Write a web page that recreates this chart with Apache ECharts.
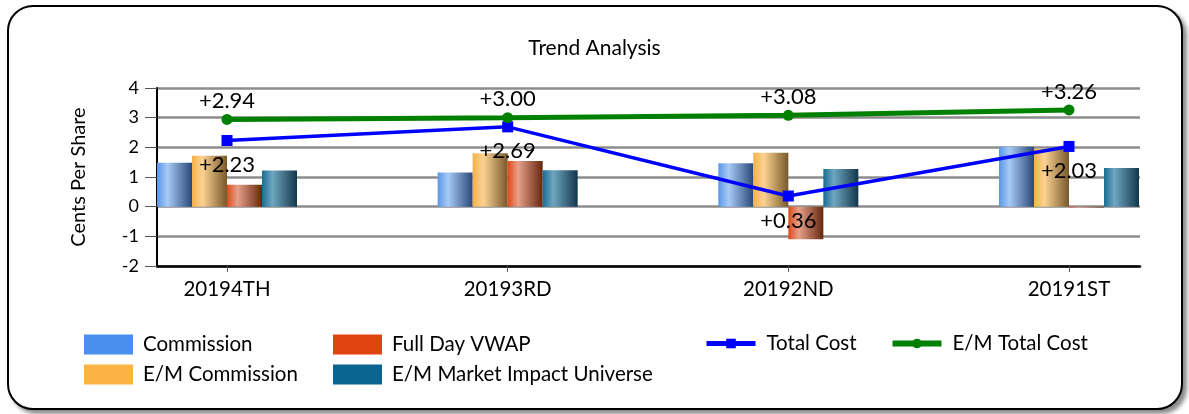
<!DOCTYPE html>
<html>
<head>
<meta charset="utf-8">
<script src="https://cdn.jsdelivr.net/npm/echarts@6/dist/echarts.min.js"></script>
<style>
html,body{margin:0;padding:0;background:#fff;}
#frame{position:absolute;left:7px;top:5px;width:1172px;height:401px;border:2px solid #000;border-radius:26px;box-shadow:4px 4px 4px #8a8a8a;background:#fff;}
#chart{position:absolute;left:0;top:0;width:1189px;height:414px;}
</style>
</head>
<body>
<div id="frame"></div>
<div id="chart"></div>
<script>
const categories = ['20194TH', '20193RD', '20192ND', '20191ST'];
const commission = [1.48, 1.15, 1.46, 2.02];
const emCommission = [1.72, 1.80, 1.82, 1.95];
const fullDayVWAP = [0.74, 1.54, -1.10, -0.03];
const emMarketImpact = [1.22, 1.23, 1.27, 1.30];
const totalCost = [2.23, 2.69, 0.36, 2.03];
const emTotalCost = [2.94, 3.00, 3.08, 3.26];
const yMin = -2, yMax = 4, yStep = 1;

const FONT = 'Lato';
function grad(c0, c1, c2) {
  return new echarts.graphic.LinearGradient(0, 0, 1, 0, [
    {offset: 0, color: c0}, {offset: 0.3, color: c1}, {offset: 1, color: c2}
  ]);
}
function fmt(p) { return '+' + p.value.toFixed(2); }

const chart = echarts.init(document.getElementById('chart'), null, {renderer: 'canvas'});
const barBase = {type: 'bar', xAxisIndex: 1, yAxisIndex: 1, barWidth: 35, barGap: '0%', clip: false};
const legText = {fontFamily: FONT, fontSize: 20.5, color: '#000', padding: [0, 0, 0, 5]};
chart.setOption({
  animation: false,
  textStyle: {fontFamily: FONT},
  title: {text: 'Trend Analysis', left: 'center', top: 33,
    textStyle: {fontFamily: FONT, fontSize: 21, fontWeight: 'normal', color: '#000'}},
  grid: [
    {left: 157, right: 49, top: 88, bottom: 148},
    {left: 227, right: 120, top: 88, bottom: 148}
  ],
  xAxis: [
    {gridIndex: 0, type: 'value', min: 0, max: 1, axisLine: {show: true, onZero: false, lineStyle: {color: '#000', width: 2.5}},
      axisTick: {show: false}, axisLabel: {show: false}, splitLine: {show: false}},
    {gridIndex: 1, type: 'category', data: categories, boundaryGap: false,
      axisLine: {show: false, onZero: false},
      axisTick: {show: true, length: 6, lineStyle: {color: '#555', width: 1}},
      axisLabel: {margin: 13, fontFamily: FONT, fontSize: 20.5, color: '#000'}}
  ],
  yAxis: [
    {gridIndex: 0, type: 'value', min: yMin, max: yMax, interval: yStep,
      name: 'Cents Per Share', nameLocation: 'middle', nameGap: 68,
      nameTextStyle: {fontFamily: FONT, fontSize: 20, color: '#000'},
      axisLine: {show: true, lineStyle: {color: '#000', width: 2}},
      axisTick: {show: true, length: 12, lineStyle: {color: '#555', width: 1}},
      axisLabel: {margin: 18, fontFamily: FONT, fontSize: 18, color: '#000'},
      splitLine: {show: true, lineStyle: {color: '#8c8c8c', width: 2.5}}},
    {gridIndex: 1, type: 'value', min: yMin, max: yMax, interval: yStep, show: false, splitLine: {show: false}}
  ],
  legend: [
    {orient: 'vertical', left: 84, top: 334, itemWidth: 49, itemHeight: 20, itemGap: 9, padding: 0, icon: 'rect',
      textStyle: legText,
      data: [{name: 'Commission', itemStyle: {color: '#4a8fec'}}, {name: 'E/M Commission', itemStyle: {color: '#fbb343'}}]},
    {orient: 'vertical', left: 333, top: 334, itemWidth: 49, itemHeight: 20, itemGap: 9, padding: 0, icon: 'rect',
      textStyle: legText,
      data: [{name: 'Full Day VWAP', itemStyle: {color: '#e0430f'}}, {name: 'E/M Market Impact Universe', itemStyle: {color: '#0b6590'}}]},
    {orient: 'horizontal', left: 704, top: 333, itemWidth: 49, itemHeight: 12, itemGap: 33, padding: 0,
      textStyle: {fontFamily: FONT, fontSize: 20.5, color: '#000', padding: [0, 0, 0, 6]},
      data: [
        {name: 'Total Cost', lineStyle: {width: 5, color: '#0000ff'}, itemStyle: {color: '#0000ff'}},
        {name: 'E/M Total Cost', lineStyle: {width: 6, color: '#008000'}, itemStyle: {color: '#008000'}}
      ]}
  ],
  series: [
    Object.assign({}, barBase, {name: 'Commission', data: commission,
      itemStyle: {color: grad('#5a96e6', '#a6caf6', '#2b4878')}}),
    Object.assign({}, barBase, {name: 'E/M Commission', data: emCommission,
      itemStyle: {color: grad('#f4b04a', '#fcd292', '#76582a')}}),
    Object.assign({}, barBase, {name: 'Full Day VWAP', data: fullDayVWAP,
      itemStyle: {color: grad('#e04818', '#e6a08a', '#66260e')}}),
    Object.assign({}, barBase, {name: 'E/M Market Impact Universe', data: emMarketImpact,
      itemStyle: {color: grad('#1a6c94', '#6fa6c0', '#12364c')}}),
    {type: 'line', name: 'Total Cost', xAxisIndex: 1, yAxisIndex: 1, data: totalCost, z: 5,
      symbol: 'rect', symbolSize: 11, clip: false,
      lineStyle: {color: '#0000ff', width: 3.5}, itemStyle: {color: '#0000ff'},
      label: {show: true, position: 'bottom', distance: 8, formatter: fmt, fontFamily: FONT, fontSize: 22, color: '#000'}},
    {type: 'line', name: 'E/M Total Cost', xAxisIndex: 1, yAxisIndex: 1, data: emTotalCost, z: 6,
      symbol: 'circle', symbolSize: 11, clip: false,
      lineStyle: {color: '#008000', width: 5}, itemStyle: {color: '#008000'},
      label: {show: true, position: 'top', distance: 2, formatter: fmt, fontFamily: FONT, fontSize: 22, color: '#000'}}
  ]
});
</script>
</body>
</html>
